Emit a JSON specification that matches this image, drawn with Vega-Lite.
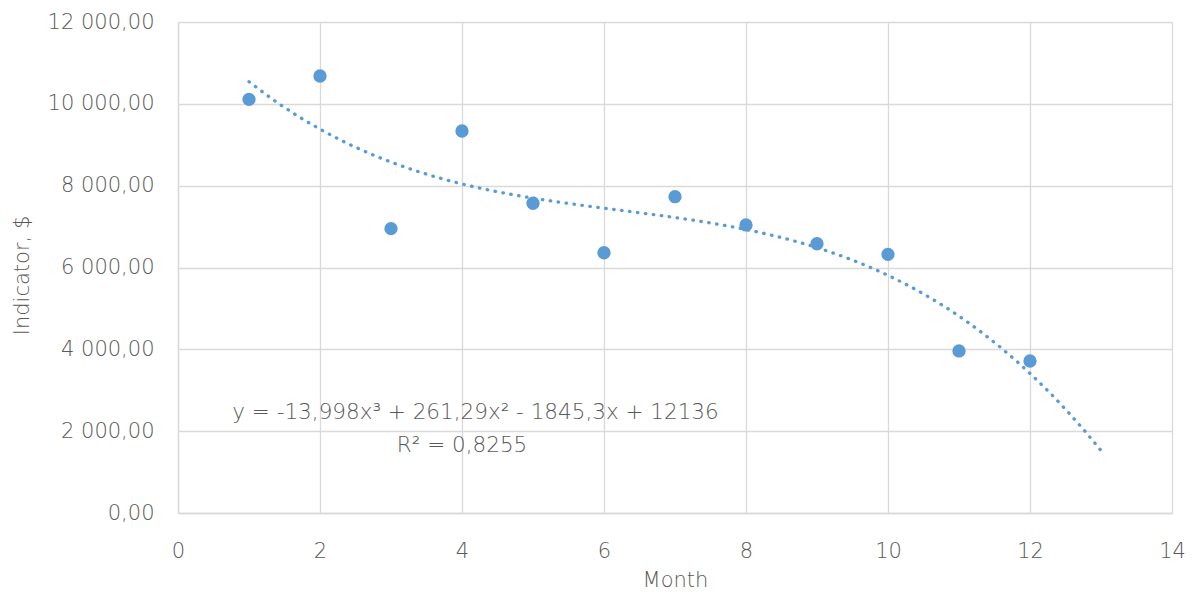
{
  "$schema": "https://vega.github.io/schema/vega-lite/v6.json",
  "autosize": "none",
  "padding": {"left": 178, "top": 22, "right": 20, "bottom": 79},
  "width": 994,
  "height": 491,
  "background": "white",
  "config": {
    "locale": {
      "number": {"decimal": ",", "thousands": " ", "grouping": [3], "currency": ["", ""]}
    },
    "font": "DejaVu Sans",
    "view": {"stroke": null},
    "axis": {
      "labelFont": "DejaVu Sans",
      "labelFontSize": 21,
      "labelFontWeight": 200,
      "labelColor": "#595959",
      "labelFlush": false,
      "titleFont": "DejaVu Sans",
      "titleFontSize": 21,
      "titleFontWeight": 200,
      "titleColor": "#595959",
      "gridColor": "#d9d9d9",
      "gridWidth": 1.3,
      "domainColor": "#d9d9d9",
      "domainWidth": 1.3,
      "ticks": false
    }
  },
  "datasets": {
    "points": [
      {"month": 1, "value": 10110},
      {"month": 2, "value": 10680},
      {"month": 3, "value": 6950},
      {"month": 4, "value": 9336},
      {"month": 5, "value": 7570},
      {"month": 6, "value": 6360},
      {"month": 7, "value": 7730},
      {"month": 8, "value": 7040},
      {"month": 9, "value": 6580},
      {"month": 10, "value": 6320},
      {"month": 11, "value": 3960},
      {"month": 12, "value": 3715}
    ],
    "notes": [
      {"month": 4.19, "value": 2444, "label": "y = -13,998x³ + 261,29x² - 1845,3x + 12136"},
      {"month": 4.0, "value": 1637, "label": "R² = 0,8255"}
    ]
  },
  "layer": [
    {
      "data": {"name": "points"},
      "transform": [
        {"regression": "value", "on": "month", "method": "poly", "order": 3, "extent": [1, 13]}
      ],
      "mark": {
        "type": "line",
        "color": "#5B9BD5",
        "strokeWidth": 3.3,
        "strokeCap": "round",
        "strokeDash": [0.5, 7.5]
      },
      "encoding": {
        "x": {
          "field": "month",
          "type": "quantitative",
          "scale": {"domain": [0, 14], "nice": false},
          "axis": {
            "values": [0, 2, 4, 6, 8, 10, 12, 14],
            "format": "d",
            "title": "Month",
            "labelPadding": 27,
            "titleX": 497,
            "titleY": 67,
            "titleBaseline": "middle"
          }
        },
        "y": {
          "field": "value",
          "type": "quantitative",
          "scale": {"domain": [0, 12000], "nice": false},
          "axis": {
            "values": [0, 2000, 4000, 6000, 8000, 10000, 12000],
            "format": ",.2f",
            "title": "Indicator, $",
            "labelPadding": 24,
            "titleX": -156,
            "titleY": 253,
            "titleBaseline": "middle"
          }
        }
      }
    },
    {
      "data": {"name": "points"},
      "mark": {"type": "circle", "size": 177, "opacity": 1, "color": "#5B9BD5"},
      "encoding": {
        "x": {"field": "month", "type": "quantitative"},
        "y": {"field": "value", "type": "quantitative"}
      }
    },
    {
      "data": {"name": "notes"},
      "mark": {
        "type": "text",
        "font": "DejaVu Sans",
        "fontSize": 21.5,
        "fontWeight": 200,
        "color": "#595959",
        "align": "center",
        "baseline": "middle"
      },
      "encoding": {
        "x": {"field": "month", "type": "quantitative"},
        "y": {"field": "value", "type": "quantitative"},
        "text": {"field": "label"}
      }
    }
  ]
}
